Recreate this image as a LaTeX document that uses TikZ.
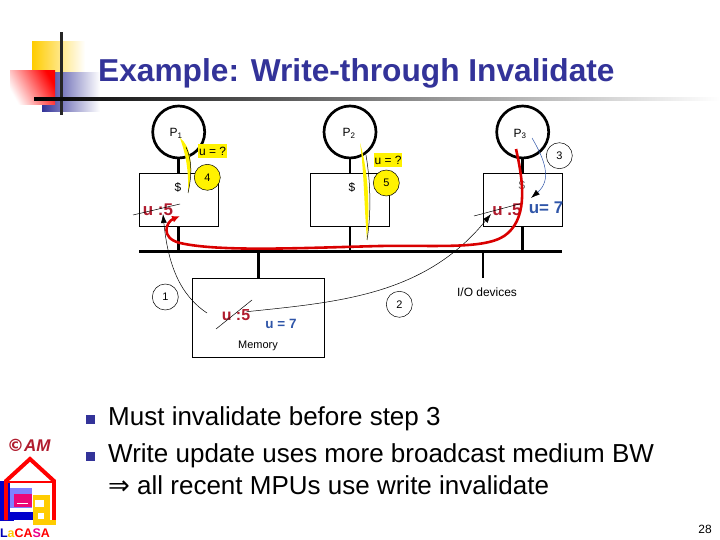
\documentclass[tikz,border=0pt]{standalone}
\usepackage{fontspec}
\setmainfont{Liberation Sans}
\newfontfamily\symfont{DejaVu Sans}
\usetikzlibrary{positioning,arrows.meta}
\definecolor{slideblue}{HTML}{333399}
\definecolor{slideyellow}{HTML}{FFCC00}
\definecolor{oldred}{HTML}{B01C2E}
\definecolor{newblue}{HTML}{2F55A8}
\newcommand{\sz}[1]{\fontsize{#1}{#1}\selectfont}
\begin{document}
\begin{tikzpicture}[
      x=1bp,y=-1bp,
      node distance=14bp,
      proc/.style={draw,circle,line width=2.7pt,minimum size=52bp,inner sep=0pt,font=\sz{12}},
      cache/.style={draw,line width=0.6pt,minimum width=79bp,minimum height=53bp,inner sep=0pt},
      stepnum/.style={draw,circle,line width=0.5pt,minimum size=26bp,inner sep=0pt,font=\sz{11}},
      asktag/.style={fill=yellow,inner sep=1pt,font=\sz{12},minimum width=28bp,minimum height=14bp},
      wire/.style={line width=2.6pt},
      oldval/.style={text=oldred,font=\bfseries\sz{17}},
      newval/.style={text=newblue,font=\bfseries\sz{17}},
      strike/.style={line width=0.5pt},
      pathline/.style={-{Latex[length=9pt,width=6pt]},line width=0.5pt},
      small/.style={font=\sz{12}},
      bulletitem/.style={anchor=base west,font=\sz{26.1},inner sep=0pt}
    ]
      \useasboundingbox (0,0) rectangle (720,540);
      % corner decoration
      \shade[left color=slideyellow,middle color=slideyellow,right color=white] (32,42) rectangle (85,73);
      \shade[left color=slideblue,middle color=slideblue,right color=white] (42,73) rectangle (100,112);
      \shade[left color=white,right color=red,shading angle=120] (10,71) rectangle (55,105);
      \fill[black!85] (60,32) rectangle (62.5,115);
      \shade[left color=black,right color=white] (34,97.5) rectangle (720,100.5);
      \node[anchor=base west,inner sep=0pt,text=slideblue,font=\bfseries\sz{31.8}] (heading) at (98,82) {Example: Write-through Invalidate};

      % processors and caches
      \node[proc] (p1) at (178.7,132) {};
      \node[proc] (p2) at (350,132) {};
      \node[proc] (p3) at (522.7,132) {};
      \node[small] at (176,133) {P\textsubscript{1}};
      \node[small] at (349,133) {P\textsubscript{2}};
      \node[small] at (520,134) {P\textsubscript{3}};
      \node[cache,below=14bp of p1] (c1) {};
      \node[cache,below=14bp of p2] (c2) {};
      \node[cache,below=14bp of p3] (c3) {};
      \node[small] (d1) at (178,187) {\$};
      \node[small] (d2) at (352,187) {\$};
      \node[small,text=black!60] (d3) at (522,185) {\$};

      % bus and memory
      \coordinate (busl) at (139,251.3);
      \coordinate (busr) at (562,251.3);
      \draw[wire] (busl) -- (busr);
      \node[draw,line width=0.6pt,minimum width=132bp,minimum height=79bp,inner sep=0pt] (mem) at (258.3,317.7) {};
      \coordinate (iodrop) at (483,278);
      \node[small] (io) at (487,292) {I/O devices};
      \node[font=\sz{11}] (memlabel) at (258,346) {Memory};
      \draw[wire] (p1) -- (c1);
      \draw[wire] (p2) -- (c2);
      \draw[wire] (p3) -- (c3);
      \draw[wire] (c1.south) -- (c1.south |- busl);
      \draw[wire] (c2.south) -- (c2.south |- busl);
      \draw[wire] (c3.south) -- (c3.south |- busl);
      \draw[wire] (mem.north) -- (mem.north |- busl);
      \draw[wire] (iodrop) -- (iodrop |- busl);

      % values
      \node[oldval] (u1) at (158,210) {u :5};
      \node[oldval] (u3) at (507,210) {u .5};
      \node[oldval,font=\bfseries\sz{16}] (um) at (236,315) {u :5};
      \node[newval] (v3) at (546,208) {u= 7};
      \node[newval,font=\bfseries\sz{13.5}] (vm) at (281,324) {u = 7};
      \draw[strike] (133,215) -- (180,204);
      \draw[strike] (474,216) -- (523,203);
      \draw[strike] (216,329) -- (252,300);
      \node[asktag] (q1) at (212.5,151.5) {u = ?};
      \node[asktag] (q2) at (388,160) {u = ?};

      % read misses
      \fill[yellow] (180,138) .. controls (190,145) and (194,165) .. (188,193) .. controls (189,165) and (184,150) .. cycle;
      \draw[line width=0.5pt] (186,147) .. controls (192,160) and (192,175) .. (188,193);
      \fill[yellow] (360,143) .. controls (368,170) and (370,205) .. (367,240) .. controls (364,205) and (364,170) .. cycle;
      \draw[line width=0.5pt] (366,155) .. controls (371,185) and (371,215) .. (367,240);
      \node[stepnum,fill=yellow] (s4) at (207.3,177.3) {4};
      \node[stepnum,fill=yellow] (s5) at (386.3,183) {5};
      \node[stepnum] (s1) at (165.3,297) {1};
      \node[stepnum] (s2) at (399.3,304.3) {2};
      \node[stepnum] (s3) at (559.3,155.7) {3};

      % transactions
      \coordinate (from1) at (207,313);
      \coordinate (to1) at (163,214);
      \coordinate (from2) at (246.7,311.7);
      \coordinate (to2) at (491,214);
      \coordinate (from3) at (532,138);
      \coordinate (to3) at (531,198);
      \draw[pathline] (from1) .. controls (180,295) and (168,265) .. (to1);
      \draw[pathline] (from2) .. controls (340,302) and (425,295) .. (to2);
      \draw[line width=0.5pt,newblue,-{Latex[length=9pt,width=6pt,black]}] (from3) .. controls (545,160) and (552,180) .. (to3);
      \coordinate (redstart) at (516,149);
      \coordinate (redend) at (180,216);
      \draw[red!85!black,line width=2.6pt,-{Latex[length=8pt,width=7pt]}] (redstart) .. controls (523,180) and (528,215) .. (508,233) .. controls (490,250) and (440,245) .. (380,246) .. controls (300,248) and (220,252) .. (180,243) .. controls (160,238) and (166,222) .. (redend);

      % bullets
      \fill[slideblue] (86,415) rectangle (95,424);
      \fill[slideblue] (86,452) rectangle (95,461);
      \node[bulletitem] (t1) at (108,425) {Must invalidate before step 3};
      \node[bulletitem] (t2) at (108,462) {Write update uses more broadcast medium BW};
      \node[bulletitem] (t3) at (108,494) {{\symfont ⇒} all recent MPUs use write invalidate};
      \node[font=\sz{12}] (pageno) at (705,529) {28};

      % logo
      \node[text=oldred,font=\bfseries\sz{17}] (am) at (29,445) {{\symfont ©}\textit{AM}};
      \fill[blue!80!black] (0,481) rectangle (14,521);
      \fill[white] (10,482) rectangle (48,520);
      \fill[blue!80!black] (10,512) rectangle (34,520);
      \fill[blue!50!white] (10,488) rectangle (32,508);
      \fill[magenta!80!red] (14,494) rectangle (32,507);
      \draw[white,line width=0.7pt] (17,503) -- (28,503);
      \draw[red,line width=4pt,line join=miter] (6,520) -- (6,481) -- (30,459) -- (54,481) -- (54,520);
      \draw[red,line width=3pt] (6,482) -- (54,482);
      \fill[slideyellow] (33,495) rectangle (50,525);
      \fill[slideyellow] (50,520) rectangle (56,525);
      \fill[white] (35,500) rectangle (44,507);
      \fill[white] (38,513) rectangle (44,519);
      \node[font=\bfseries\sz{12.5}] (lacasa) at (25,533.5) {\textcolor{blue!70!black}{L}\textcolor{slideyellow}{a}\textcolor{red}{CA}\textcolor{magenta}{S}\textcolor{red}{A}};
    \end{tikzpicture}
\end{document}
